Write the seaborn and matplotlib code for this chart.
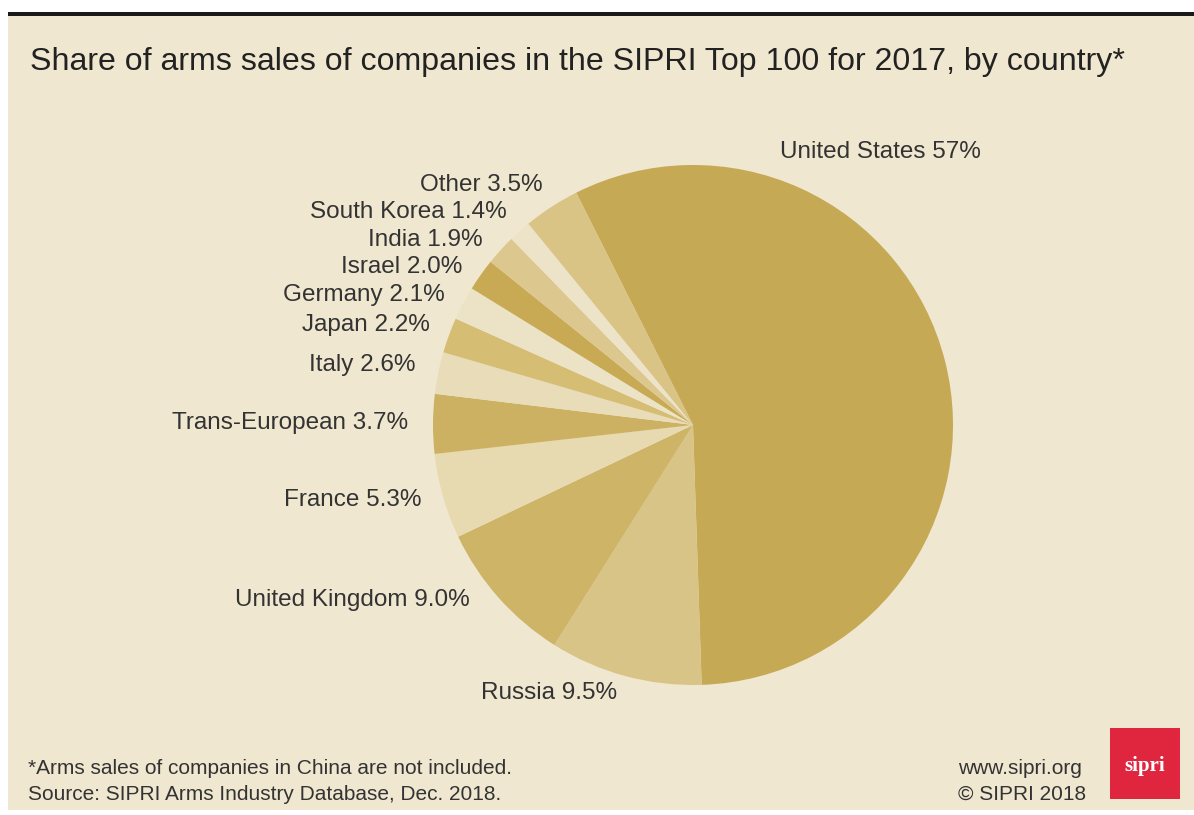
import numpy as np
import matplotlib
matplotlib.use("Agg")
import matplotlib.pyplot as plt
import seaborn as sns
from matplotlib.patches import Rectangle

# data
countries = ["United States", "Russia", "United Kingdom", "France", "Trans-European",
             "Italy", "Japan", "Germany", "Israel", "India", "South Korea", "Other"]
shares = [57, 9.5, 9.0, 5.3, 3.7, 2.6, 2.2, 2.1, 2.0, 1.9, 1.4, 3.5]
share_labels = ["57%", "9.5%", "9.0%", "5.3%", "3.7%", "2.6%", "2.2%", "2.1%",
                "2.0%", "1.9%", "1.4%", "3.5%"]

slice_colors = ["#c5a955", "#d9c487", "#ceb466", "#e7d9b0", "#cdb162", "#e9ddb9",
                "#d5bd74", "#ece2c5", "#c8aa54", "#dcc78f", "#ede3c8", "#d9c486"]

# label anchor points in pixels (layout only)
label_px = [(780, 152), (549, 693), (470, 600), (422, 500), (408, 423), (415, 365),
            (430, 325), (445, 295), (462, 267), (483, 240), (507, 212), (543, 185)]
label_ha = ["left", "center"] + ["right"] * 10

sns.set_theme(style="white")
plt.rcParams["font.family"] = ["Liberation Sans", "DejaVu Sans"]

W, H = 1194, 815
fig = plt.figure(figsize=(W / 100, H / 100), dpi=100)
fig.patch.set_facecolor("white")

bg = "#efe7cf"
fig.add_artist(Rectangle((8 / W, 5 / H), 1 - 8 / W, (H - 5 - 16) / H,
                         transform=fig.transFigure, facecolor=bg, edgecolor="none",
                         zorder=-10))
fig.add_artist(Rectangle((8 / W, (H - 16) / H), 1 - 8 / W, 4 / H,
                         transform=fig.transFigure, facecolor="#1a1a1a", edgecolor="none",
                         zorder=-9))

cx, cy, r = 693, 425, 260
ax = fig.add_axes([(cx - r) / W, (H - cy - r) / H, 2 * r / W, 2 * r / H])
ax.set_facecolor("none")
ax.pie(shares, colors=slice_colors, startangle=116.7, counterclock=False,
       radius=1, wedgeprops=dict(linewidth=0))
ax.set_xlim(-1, 1)
ax.set_ylim(-1, 1)
ax.set_aspect("equal")
ax.axis("off")

text_col = "#333333"
for name, lab, (px, py), ha in zip(countries, share_labels, label_px, label_ha):
    fig.text(px / W, 1 - py / H, f"{name} {lab}", ha=ha, va="center",
             fontsize=17.5, color=text_col)

fig.text(30 / W, 1 - 62 / H,
         "Share of arms sales of companies in the SIPRI Top 100 for 2017, by country*",
         ha="left", va="center", fontsize=23.1, color="#222222")

fig.text(28 / W, 1 - 768 / H, "*Arms sales of companies in China are not included.",
         ha="left", va="center", fontsize=15, color=text_col)
fig.text(28 / W, 1 - 794 / H, "Source: SIPRI Arms Industry Database, Dec. 2018.",
         ha="left", va="center", fontsize=15, color=text_col)
fig.text(958 / W, 1 - 768 / H, "www.sipri.org", ha="left", va="center",
         fontsize=15, color=text_col)
fig.text(958 / W, 1 - 794 / H, "\u00a9 SIPRI 2018", ha="left", va="center",
         fontsize=15, color=text_col)

# logo
fig.add_artist(Rectangle((1110 / W, 1 - 799 / H), 70 / W, 71 / H,
                         transform=fig.transFigure, facecolor="#e0263f", edgecolor="none"))
fig.text(1145 / W, 1 - 766 / H, "sipri", ha="center", va="center", fontsize=15,
         color="white", fontweight="bold", family=["Liberation Serif", "DejaVu Serif"])

fig.savefig("out.png", dpi=100, facecolor=fig.get_facecolor())
